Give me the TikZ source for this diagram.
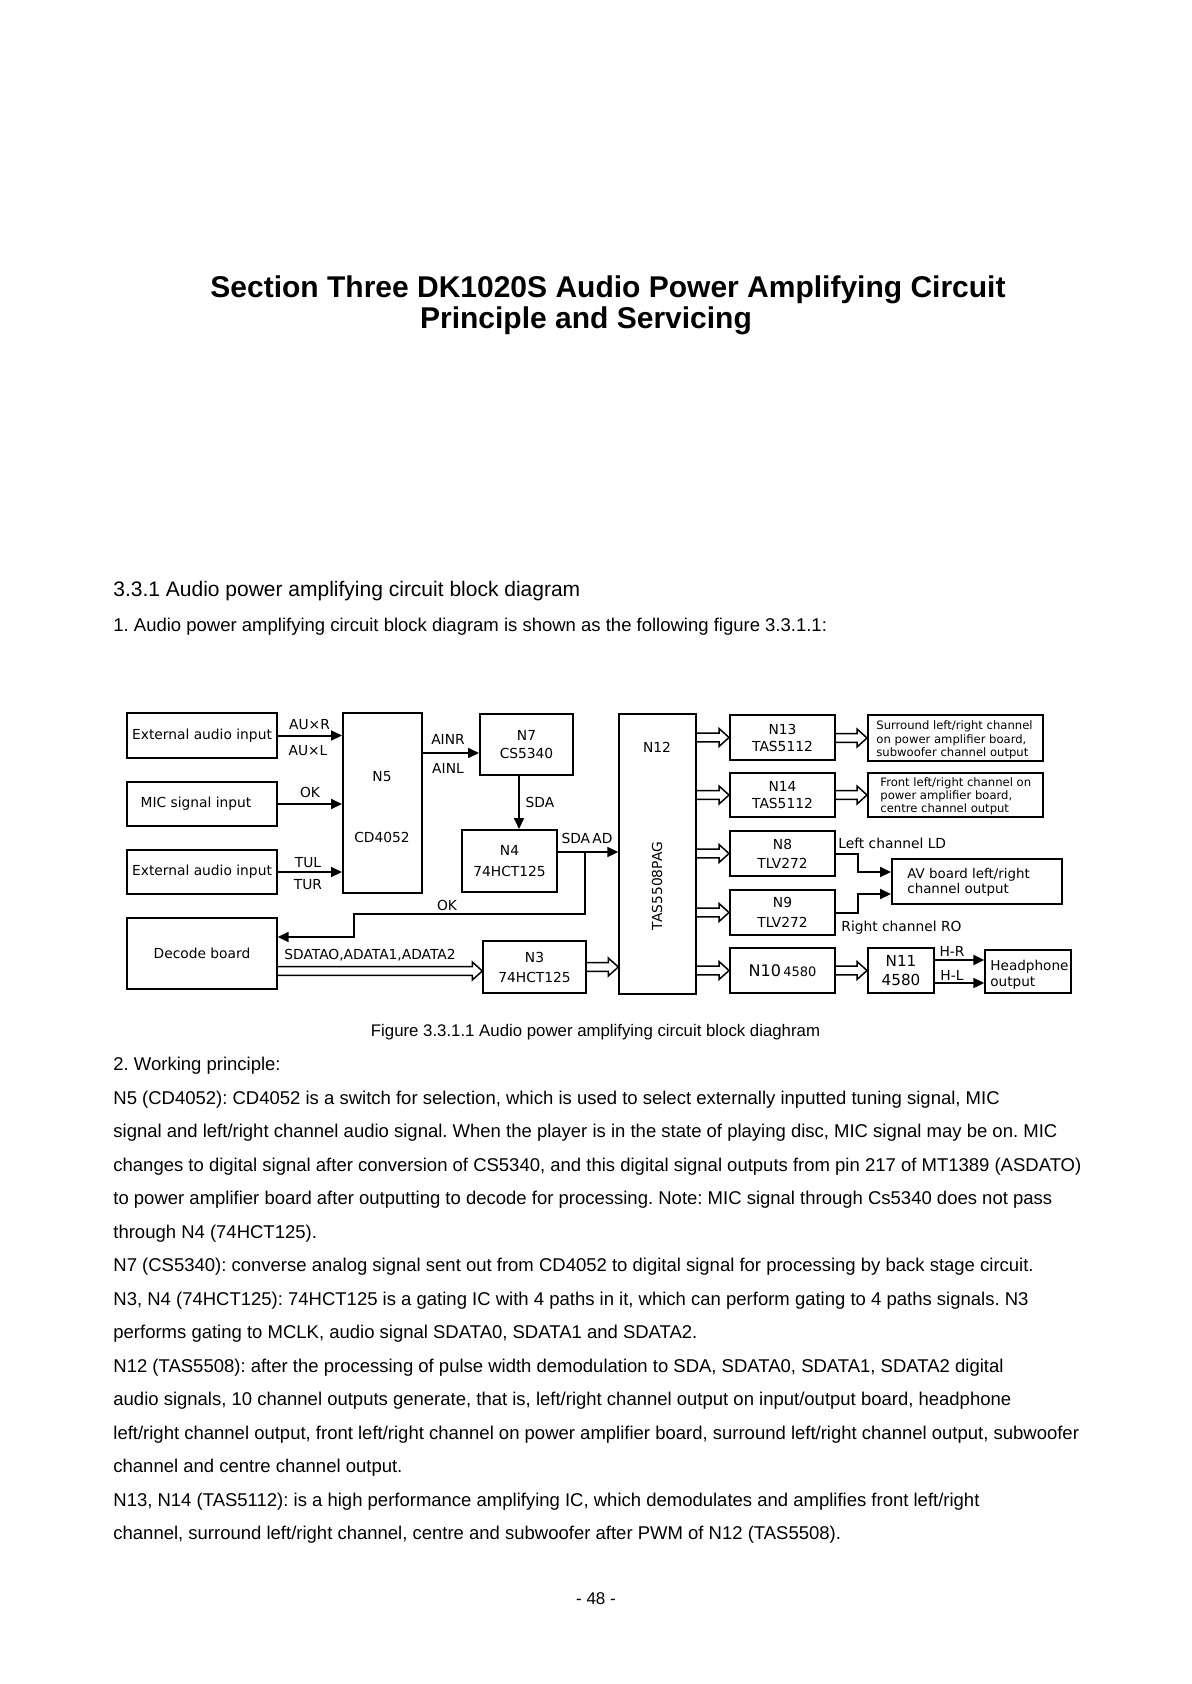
\documentclass[tikz,border=0pt]{standalone}
\usepackage{fontspec}
\setmainfont{Liberation Sans}
\newfontfamily\dgfont{DejaVu Sans}
\usetikzlibrary{arrows.meta,calc}
\frenchspacing
\begin{document}
\begin{tikzpicture}[x=0.5pt,y=-0.5pt,
 box/.style={draw,line width=1pt,inner sep=0pt,align=center,font=\dgfont\fontsize{6.9}{9}\selectfont},
 thinbox/.style={box,line width=0.7pt},
 lbl/.style={inner sep=0pt,font=\dgfont\fontsize{6.9}{8}\selectfont},
 arr/.style={line width=1pt,-{Triangle[length=5.5pt,width=5pt]}},
 dbl/.style={line width=0.75pt,line join=miter,to path={let \p1=(\tikztostart), \p2=(\tikztotarget) in (\x1,\y2+2.2pt) -- (\x2-5pt,\y2+2.2pt) -- (\x2-5pt,\y2+4.5pt) -- (\x2,\y2) -- (\x2-5pt,\y2-4.5pt) -- (\x2-5pt,\y2-2.2pt) -- (\x1,\y2-2.2pt)}},
 body/.style={anchor=west,inner sep=0pt,font=\fontsize{9.25}{11}\selectfont}
]
\useasboundingbox (0,0) rectangle (1192,1684);
\fill[white] (0,0) rectangle (1192,1684);

% title
\node[inner sep=0pt,font=\bfseries\fontsize{15}{18}\selectfont] (title1) at (608,290) {Section Three DK1020S Audio Power Amplifying Circuit};
\node[inner sep=0pt,font=\bfseries\fontsize{15}{18}\selectfont] (title2) at (586,321) {Principle and Servicing};

\node[anchor=west,inner sep=0pt,font=\fontsize{10.5}{12}\selectfont] (head) at (113,591) {3.3.1 Audio power amplifying circuit block diagram};
\node[body] (intro) at (113,627) {1. Audio power amplifying circuit block diagram is shown as the following figure 3.3.1.1:};

% boxes
\node[box,minimum width=75pt,minimum height=22.5pt] (ext1) at (202,735.5) {External audio input};
\node[box,minimum width=75pt,minimum height=22pt] (mic) at (202,804) {\hspace*{-6pt}MIC signal input};
\node[box,minimum width=75pt,minimum height=22pt] (ext2) at (202,872) {External audio input};
\node[box,minimum width=39.5pt,minimum height=90pt] (N5) at (382.5,803) {};
\node[lbl] (N5a) at (382,777) {N5};
\node[lbl] (N5b) at (382,837) {CD4052};
\node[box,minimum width=46.5pt,minimum height=30.5pt] (N7) at (526.5,744.5) {N7\\CS5340};
\node[box,minimum width=47.5pt,minimum height=31pt,font=\dgfont\fontsize{6.9}{10.5}\selectfont] (N4) at (509.5,861) {N4\\74HCT125};
\node[thinbox,minimum width=38.5pt,minimum height=140pt] (N12) at (657.5,854) {};
\node[lbl] (N12a) at (657,747) {N12};
\node[lbl,rotate=90] (N12b) at (657,886) {TAS5508PAG};
\node[box,minimum width=52.5pt,minimum height=22.5pt,font=\dgfont\fontsize{6.9}{8.5}\selectfont] (N13) at (782.5,737.5) {N13\\TAS5112};
\node[box,minimum width=52.5pt,minimum height=22pt,font=\dgfont\fontsize{6.9}{8.5}\selectfont] (N14) at (782.5,795) {N14\\TAS5112};
\node[box,minimum width=52.5pt,minimum height=22.5pt,font=\dgfont\fontsize{6.9}{9.5}\selectfont] (N8) at (782.5,853.5) {N8\\TLV272};
\node[box,minimum width=52.5pt,minimum height=22.5pt,font=\dgfont\fontsize{6.9}{10}\selectfont] (N9) at (782.5,912.5) {N9\\TLV272};
\node[box,minimum width=52.5pt,minimum height=22.5pt] (N10) at (782.5,970.5) {{\fontsize{8}{9}\selectfont N10}\,{\fontsize{6.5}{8}\selectfont 4580}};
\node[box,minimum width=33pt,minimum height=22.5pt,font=\dgfont\fontsize{7.6}{9.5}\selectfont] (N11) at (901,970.5) {N11\\4580};
\node[thinbox,minimum width=43pt,minimum height=21.5pt] (Head) at (1028,971.5) {};
\node[lbl,anchor=west,align=left,font=\dgfont\fontsize{6.8}{7.8}\selectfont] (Headt) at (990,975) {Headphone\\output};
\node[box,minimum width=87.5pt,minimum height=23pt] (Sur) at (955.5,738) {};
\node[lbl,anchor=west,align=left,font=\dgfont\fontsize{5.8}{6.75}\selectfont] (Surt) at (876,740) {Surround left/right channel\\on power amplifier board,\\subwoofer channel output};
\node[box,minimum width=87.5pt,minimum height=22pt] (Front) at (955.5,795) {};
\node[lbl,anchor=west,align=left,font=\dgfont\fontsize{5.8}{6.5}\selectfont] (Frontt) at (880,796) {Front left/right channel on\\power amplifier board,\\centre channel output};
\node[box,minimum width=85pt,minimum height=22.5pt] (AV) at (977,881.5) {};
\node[lbl,anchor=west,align=left,font=\dgfont\fontsize{6.7}{7.6}\selectfont] (AVt) at (907,882.5) {AV board left/right\\channel output};
\node[thinbox,minimum width=75pt,minimum height=35.5pt] (Decode) at (202,953.5) {Decode board};
\node[thinbox,minimum width=51.5pt,minimum height=26pt,font=\dgfont\fontsize{6.9}{10}\selectfont] (N3) at (534.5,967) {N3\\74HCT125};

% labels
\node[lbl] (lAUR) at (309.5,725) {AU×R};
\node[lbl] (lAUL) at (308,751) {AU×L};
\node[lbl] (lOK1) at (310,792) {OK};
\node[lbl] (lTUL) at (308,863) {TUL};
\node[lbl] (lTUR) at (308,885) {TUR};
\node[lbl] (lAINR) at (448,739) {AINR};
\node[lbl] (lAINL) at (448,768) {AINL};
\node[lbl] (lSDA) at (540,802) {SDA};
\node[lbl] (lSDAAD) at (587,838) {SDA\,AD};
\node[lbl] (lOK2) at (447,905) {OK};
\node[lbl,anchor=west] (lSDATA) at (284,955) {SDATAO,ADATA1,ADATA2};
\node[lbl,anchor=west] (lLD) at (838,843) {Left channel LD};
\node[lbl,anchor=west] (lRO) at (841,928) {Right channel RO};
\node[lbl] (lHR) at (952,951) {H-R};
\node[lbl] (lHL) at (952,975) {H-L};

% connectors
\draw[arr] (ext1.east) -- (ext1.east -| N5.west);
\draw[arr] (mic.east) -- (mic.east -| N5.west);
\draw[arr] (ext2.east) -- (ext2.east -| N5.west);
\coordinate (ainr) at ($(N7.west)+(0,8.5)$);
\draw[arr] (ainr -| N5.east) -- (ainr);
\coordinate (sdax) at (519,775);
\draw[arr] (N7.south -| sdax) -- (N4.north -| sdax);
\coordinate (sdaad) at ($(N4.east)+(0,-9)$);
\draw[arr] (sdaad) -- (sdaad -| N12.west);
\coordinate (okA) at (585,914);
\coordinate (okB) at (354,914);
\coordinate (okC) at (354,937);
\draw[arr] (sdaad -| okA) -- (okA) -- (okB) -- (okC) -- (okC -| Decode.east);
\coordinate (lbend) at (858,872);
\coordinate (rbend) at (858,894);
\draw[arr] (N8.east) -- (N8.east -| lbend) -- (lbend) -- (lbend -| AV.west);
\draw[arr] (N9.east) -- (N9.east -| rbend) -- (rbend) -- (rbend -| AV.west);
\coordinate (hr) at ($(N11.east)+(0,-10.5)$);
\coordinate (hl) at ($(N11.east)+(0,12.5)$);
\draw[arr] (hr) -- (hr -| Head.west);
\draw[arr] (hl) -- (hl -| Head.west);

\draw[dbl] (N12.east |- N13.west) to (N13.west);
\draw[dbl] (N12.east |- N14.west) to (N14.west);
\draw[dbl] (N12.east |- N8.west) to (N8.west);
\draw[dbl] (N12.east |- N9.west) to (N9.west);
\draw[dbl] (N12.east |- N10.west) to (N10.west);
\draw[dbl] (N13.east) to (Sur.west);
\draw[dbl] (N14.east) to (Front.west);
\draw[dbl] (N10.east) to (N11.west);
\draw[dbl] (N3.east) to (N3.east -| N12.west);
\coordinate (decy) at ($(N3.west)+(0,4)$);
\draw[dbl] (decy -| Decode.east) to (decy);

\node[inner sep=0pt,font=\fontsize{8.4}{10}\selectfont] (cap) at (595.5,1032) {Figure 3.3.1.1 Audio power amplifying circuit block diaghram};

% body
\node[body] (t1) at (113,1066) {2. Working principle:};
\node[body] (t2) at (113,1099.5) {N5 (CD4052): CD4052 is a switch for selection, which is used to select externally inputted tuning signal, MIC};
\node[body] (t3) at (113,1133) {signal and left/right channel audio signal. When the player is in the state of playing disc, MIC signal may be on. MIC};
\node[body] (t4) at (113,1166.5) {changes to digital signal after conversion of CS5340, and this digital signal outputs from pin 217 of MT1389 (ASDATO)};
\node[body] (t5) at (113,1200) {to power amplifier board after outputting to decode for processing. Note: MIC signal through Cs5340 does not pass};
\node[body] (t6) at (113,1233.5) {through N4 (74HCT125).};
\node[body] (t7) at (113,1267) {N7 (CS5340): converse analog signal sent out from CD4052 to digital signal for processing by back stage circuit.};
\node[body] (t8) at (113,1300.5) {N3, N4 (74HCT125): 74HCT125 is a gating IC with 4 paths in it, which can perform gating to 4 paths signals. N3};
\node[body] (t9) at (113,1334) {performs gating to MCLK, audio signal SDATA0, SDATA1 and SDATA2.};
\node[body] (t10) at (113,1367.5) {N12 (TAS5508): after the processing of pulse width demodulation to SDA, SDATA0, SDATA1, SDATA2 digital};
\node[body] (t11) at (113,1401) {audio signals, 10 channel outputs generate, that is, left/right channel output on input/output board, headphone};
\node[body] (t12) at (113,1434.5) {left/right channel output, front left/right channel on power amplifier board, surround left/right channel output, subwoofer};
\node[body] (t13) at (113,1468) {channel and centre channel output.};
\node[body] (t14) at (113,1501.5) {N13, N14 (TAS5112): is a high performance amplifying IC, which demodulates and amplifies front left/right};
\node[body] (t15) at (113,1535) {channel, surround left/right channel, centre and subwoofer after PWM of N12 (TAS5508).};

\node[inner sep=0pt,font=\fontsize{8.5}{10}\selectfont] (page) at (596,1599) {- 48 -};
\end{tikzpicture}
\end{document}
